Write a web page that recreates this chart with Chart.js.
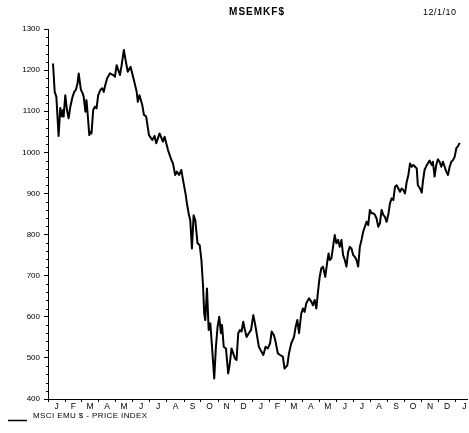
<!DOCTYPE html>
<html><head><meta charset="utf-8">
<script src="https://cdn.jsdelivr.net/npm/chart.js@4.4.1/dist/chart.umd.min.js"></script>
<style>html,body{margin:0;padding:0;background:#fff}canvas{display:block}</style>
</head><body>
<canvas id="c" width="469" height="433"></canvas>
<script>
const chartTitle = 'MSEMKF$';
const dateStamp = '12/1/10';
const seriesName = 'MSCI EMU $ - PRICE INDEX';
const monthLabels = ['J','F','M','A','M','J','J','A','S','O','N','D','J','F','M','A','M','J','J','A','S','O','N','D','J'];
const yTickValues = [400,500,600,700,800,900,1000,1100,1200,1300];
// days since 1 Jan 2008
const dayOffsets = [9,12,15,19,22,25,27,28,31,34,37,40,44,47,50,53,55,59,62,64,67,69,71,74,76,78,81,84,87,90,94,97,100,102,106,111,117,120,123,126,129,132,136,139,143,148,151,154,159,161,164,169,172,176,181,
187,191,194,200,206,209,215,221,224,228,231,235,239,242,247,249,252,255,258,261,264,268,272,275,278,280,282,285,288,291,294,298,301,304,307,310,312,315,319,323,326,329,332,335,338,341,344,347,350,353,356,360,364,368,371,374,378,381,386,390,394,398,401,405,408,412,
416,421,424,429,432,436,441,444,447,450,454,457,460,463,468,472,475,478,481,484,487,490,493,497,501,503,505,508,511,514,517,520,523,526,529,532,535,538,541,544,547,550,553,556,559,562,565,568,571,574,577,580,583,586,589,592,595,598,601,604,607,610,613,616,619,622,625,628,631,634,637,640,643,646,649,652,655,658,661,663,667,670,672,675,679,681,684,688,690,693,696,699,702,705,708,711,714,717,720,723,726,729,732,735,738];
const values = [1216,1147,1135,1040,1108,1087,1103,1087,1139,1103,1083,1111,1135,1147,1152,1168,1192,1152,1144,1135,1099,1127,1095,1042,1050,1046,1103,1111,1107,1139,1152,1156,1147,1160,1180,1192,1188,1184,1212,1200,1188,1212,1249,1225,1196,1208,1192,1176,1147,1123,1139,1115,1091,1087,1042,
1030,1040,1022,1046,1026,1038,1006,982,973,945,953,945,957,933,896,876,852,835,766,847,835,779,774,738,673,608,592,669,568,584,527,450,527,576,600,560,580,527,523,462,487,523,511,499,495,560,568,564,588,568,551,560,568,604,584,560,527,519,507,527,523,535,564,555,539,511,
507,503,474,482,511,535,551,576,592,560,608,620,612,633,645,637,628,641,620,661,697,718,722,697,738,754,738,742,770,799,779,787,770,787,750,738,722,758,770,766,750,746,738,722,770,787,807,819,831,823,860,852,852,848,839,819,827,860,848,843,831,848,876,888,884,916,920,912,904,912,908,900,928,945,973,965,969,965,961,920,912,902,928,957,969,973,980,969,977,941,969,983,977,965,977,965,953,945,965,977,981,989,1010,1015,1023];

const DAY = 86400000;
const T0 = Date.UTC(2008, 0, 1);
const monthStart = k => (Date.UTC(2008, k, 1) - T0) / DAY;
const X_MAX = 752;
const xTicks = [];
for (let k = 0; k < monthLabels.length; k++) {
  const a = monthStart(k), b = monthStart(k + 1);
  if (a <= X_MAX) xTicks.push({ value: a, edge: true, txt: '' });
  const m = (a + b) / 2;
  if (m <= X_MAX) xTicks.push({ value: m, edge: false, txt: monthLabels[k] });
}
const FONT = '"Liberation Sans", Arial, Helvetica, sans-serif';

const decor = {
  id: 'decor',
  afterDraw(chart) {
    const { ctx, chartArea, scales: { y } } = chart;
    ctx.save();
    ctx.strokeStyle = '#000';
    ctx.lineWidth = 1;
    y.ticks.forEach(t => {
      if (t.value % 100 !== 0) {
        const py = Math.round(y.getPixelForValue(t.value)) + 0.5;
        ctx.beginPath();
        ctx.moveTo(chartArea.left - 2, py);
        ctx.lineTo(chartArea.left, py);
        ctx.stroke();
      }
    });
    ctx.fillStyle = '#000';
    ctx.textBaseline = 'middle';
    ctx.textAlign = 'center';
    ctx.font = 'bold 10px ' + FONT;
    ctx.letterSpacing = '1px';
    ctx.fillText(chartTitle, 257, 12);
    ctx.textAlign = 'left';
    ctx.font = '9px ' + FONT;
    ctx.letterSpacing = '0.5px';
    ctx.fillText(dateStamp, 423, 13);
    // legend
    ctx.font = '8px ' + FONT;
    ctx.letterSpacing = '0.4px';
    ctx.fillText(seriesName, 33, 416);
    ctx.lineWidth = 1.5;
    ctx.beginPath();
    ctx.moveTo(8, 420.5);
    ctx.lineTo(27, 420.5);
    ctx.stroke();
    ctx.restore();
  }
};

new Chart(document.getElementById('c'), {
  type: 'line',
  data: {
    datasets: [{
      label: seriesName,
      data: dayOffsets.map((d, i) => ({ x: d, y: values[i] })),
      borderColor: '#000',
      borderWidth: 2,
      borderJoinStyle: 'round',
      pointRadius: 0,
      tension: 0,
      fill: false
    }]
  },
  options: {
    responsive: false,
    animation: false,
    layout: { padding: { top: 29, right: 1.5, left: 0, bottom: 0 } },
    plugins: { legend: { display: false }, tooltip: { enabled: false }, title: { display: false } },
    scales: {
      x: {
        type: 'linear',
        min: 0,
        max: X_MAX,
        afterBuildTicks: s => { s.ticks = xTicks.map(t => ({ ...t })); },
        afterFit: s => { s.height = 34; },
        grid: {
          drawOnChartArea: false,
          tickLength: 3,
          tickColor: c => (c.tick && c.tick.edge) ? '#000' : 'rgba(0,0,0,0)'
        },
        border: { color: '#000', width: 1 },
        ticks: {
          autoSkip: false,
          maxRotation: 0,
          minRotation: 0,
          padding: 0,
          color: '#000',
          font: { family: FONT, size: 8.5 },
          callback: (v, i, ticks) => ticks[i].txt
        }
      },
      y: {
        min: 400,
        max: 1300,
        afterFit: s => { s.width = 48; },
        grid: {
          drawOnChartArea: false,
          tickLength: 4,
          tickColor: c => (c.tick && yTickValues.includes(c.tick.value)) ? '#000' : 'rgba(0,0,0,0)'
        },
        border: { color: '#000', width: 1 },
        ticks: {
          stepSize: 20,
          autoSkip: false,
          padding: 4,
          color: '#000',
          font: { family: FONT, size: 8 },
          callback: v => yTickValues.includes(v) ? String(v) : ''
        }
      }
    }
  },
  plugins: [decor]
});
</script>
</body></html>
